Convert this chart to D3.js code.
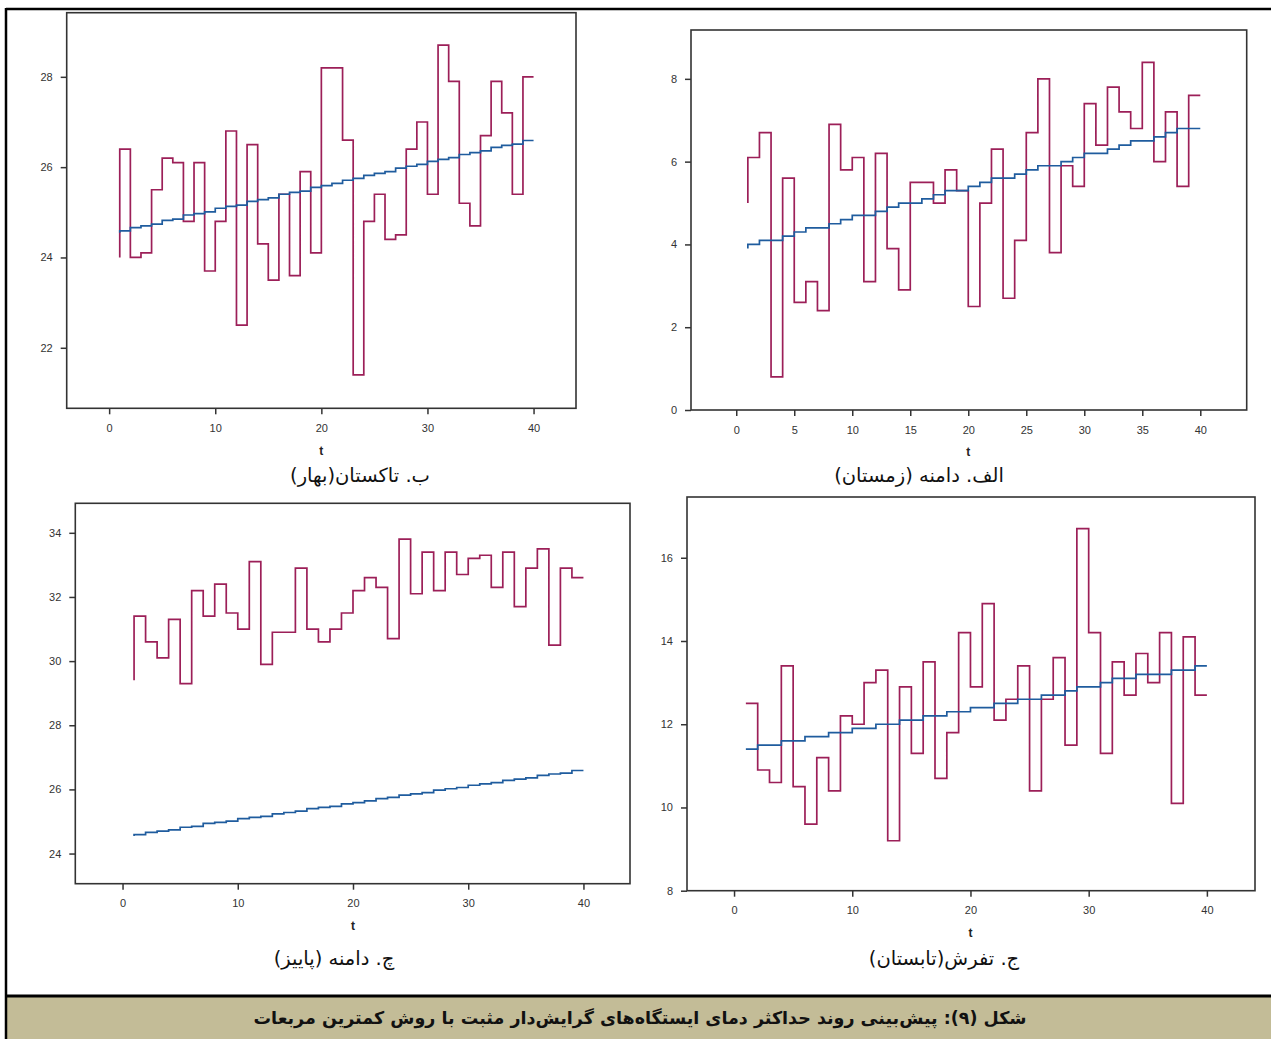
<!DOCTYPE html>
<html>
<head>
  <meta charset="utf-8">
  <script src="https://d3js.org/d3.v7.min.js"></script>
  <style>
    body { margin: 0; background: #fff; }
    .tick text { font: 11px "Liberation Sans", sans-serif; fill: #333; }
    .tick line { stroke: #333; stroke-width: 1.5; }
    .t-label { font: bold 12px "Liberation Sans", sans-serif; fill: #222; text-anchor: middle; }
    .cap { font: 19.5px "DejaVu Sans", sans-serif; fill: #111; text-anchor: middle; }
    .title { font: bold 17.5px "DejaVu Sans", sans-serif; fill: #111; text-anchor: middle; }
  </style>
</head>
<body>
  <svg width="1271" height="1039"></svg>
  <script>
    // time index (t)
    var tValues = [1, 2, 3, 4, 5, 6, 7, 8, 9, 10, 11, 12, 13, 14, 15, 16, 17, 18, 19, 20,
                   21, 22, 23, 24, 25, 26, 27, 28, 29, 30, 31, 32, 33, 34, 35, 36, 37, 38, 39, 40];

    // ب. تاکستان (بهار)
    var springObs = [24.0, 26.4, 24.0, 24.1, 25.5, 26.2, 26.1, 24.8, 26.1, 23.7,
                     24.8, 26.8, 22.5, 26.5, 24.3, 23.5, 25.4, 23.6, 25.9, 24.1,
                     28.2, 28.2, 26.6, 21.4, 24.8, 25.4, 24.4, 24.5, 26.4, 27.0,
                     25.4, 28.7, 27.9, 25.2, 24.7, 26.7, 27.9, 27.2, 25.4, 28.0];
    var springTrend = [24.55, 24.59, 24.66, 24.70, 24.74, 24.82, 24.85, 24.94, 24.97, 25.01,
                       25.09, 25.13, 25.16, 25.24, 25.28, 25.32, 25.40, 25.44, 25.47, 25.55,
                       25.59, 25.64, 25.71, 25.75, 25.82, 25.86, 25.90, 25.98, 26.02, 26.06,
                       26.13, 26.17, 26.21, 26.28, 26.32, 26.36, 26.44, 26.48, 26.51, 26.59];

    // الف. دامنه (زمستان)
    var winterObs = [5.0, 6.1, 6.7, 0.8, 5.6, 2.6, 3.1, 2.4, 6.9, 5.8,
                     6.1, 3.1, 6.2, 3.9, 2.9, 5.5, 5.5, 5.0, 5.8, 5.3,
                     2.5, 5.0, 6.3, 2.7, 4.1, 6.7, 8.0, 3.8, 5.9, 5.4,
                     7.4, 6.4, 7.8, 7.2, 6.8, 8.4, 6.0, 7.2, 5.4, 7.6];
    var winterTrend = [3.9, 4.0, 4.1, 4.1, 4.2, 4.3, 4.4, 4.4, 4.5, 4.6,
                       4.7, 4.7, 4.8, 4.9, 5.0, 5.0, 5.1, 5.2, 5.3, 5.3,
                       5.4, 5.5, 5.6, 5.6, 5.7, 5.8, 5.9, 5.9, 6.0, 6.1,
                       6.2, 6.2, 6.3, 6.4, 6.5, 6.5, 6.6, 6.7, 6.8, 6.8];

    // چ. دامنه (پاییز)
    var autumnObs = [29.4, 31.4, 30.6, 30.1, 31.3, 29.3, 32.2, 31.4, 32.4, 31.5,
                     31.0, 33.1, 29.9, 30.9, 30.9, 32.9, 31.0, 30.6, 31.0, 31.5,
                     32.2, 32.6, 32.3, 30.7, 33.8, 32.1, 33.4, 32.2, 33.4, 32.7,
                     33.2, 33.3, 32.3, 33.4, 31.7, 32.9, 33.5, 30.5, 32.9, 32.6];
    var autumnTrend = [24.55, 24.59, 24.66, 24.70, 24.74, 24.82, 24.85, 24.94, 24.97, 25.01,
                       25.09, 25.13, 25.16, 25.24, 25.28, 25.32, 25.40, 25.44, 25.47, 25.55,
                       25.59, 25.64, 25.71, 25.75, 25.82, 25.86, 25.90, 25.98, 26.02, 26.06,
                       26.13, 26.17, 26.21, 26.28, 26.32, 26.36, 26.44, 26.48, 26.51, 26.59];

    // ج. تفرش (تابستان)
    var summerObs = [12.5, 12.5, 10.9, 10.6, 13.4, 10.5, 9.6, 11.2, 10.4, 12.2,
                     12.0, 13.0, 13.3, 9.2, 12.9, 11.3, 13.5, 10.7, 11.8, 14.2,
                     12.9, 14.9, 12.1, 12.6, 13.4, 10.4, 12.6, 13.6, 11.5, 16.7,
                     14.2, 11.3, 13.5, 12.7, 13.7, 13.0, 14.2, 10.1, 14.1, 12.7];
    var summerTrend = [11.4, 11.4, 11.5, 11.5, 11.6, 11.6, 11.7, 11.7, 11.8, 11.8,
                       11.9, 11.9, 12.0, 12.0, 12.1, 12.1, 12.2, 12.2, 12.3, 12.3,
                       12.4, 12.4, 12.5, 12.5, 12.6, 12.6, 12.7, 12.7, 12.8, 12.9,
                       12.9, 13.0, 13.1, 13.1, 13.2, 13.2, 13.2, 13.3, 13.3, 13.4];

    // tick labels
    var xTicksTen = [0, 10, 20, 30, 40];
    var xTicksFive = [0, 5, 10, 15, 20, 25, 30, 35, 40];
    var springYTicks = [22, 24, 26, 28];
    var winterYTicks = [0, 2, 4, 6, 8];
    var autumnYTicks = [24, 26, 28, 30, 32, 34];
    var summerYTicks = [8, 10, 12, 14, 16];

    var obsColor = "#9c1f58";
    var trendColor = "#1f5c9e";
    var frameColor = "#333";

    var svg = d3.select("svg");

    svg.append("rect").attr("width", 1271).attr("height", 1039).attr("fill", "#fff");

    var panels = [
      {obs: springObs, trend: springTrend, yTicks: springYTicks, xTicks: xTicksTen,
       box: {left: 66.7, right: 576, top: 12.7, bottom: 408.3},
       xDomain: [-4, 44], yDomain: [20.66, 29.42],
       caption: "ب. تاکستان(بهار)", capX: 360, capY: 475},
      {obs: winterObs, trend: winterTrend, yTicks: winterYTicks, xTicks: xTicksFive,
       box: {left: 691, right: 1246.7, top: 30, bottom: 410},
       xDomain: [-3.9, 44], yDomain: [0, 9.18],
       caption: "الف. دامنه (زمستان)", capX: 919, capY: 475},
      {obs: autumnObs, trend: autumnTrend, yTicks: autumnYTicks, xTicks: xTicksTen,
       box: {left: 75.3, right: 630, top: 503.3, bottom: 883.7},
       xDomain: [-4.1, 44.04], yDomain: [23.06, 34.92],
       caption: "چ. دامنه (پاییز)", capX: 334, capY: 958},
      {obs: summerObs, trend: summerTrend, yTicks: summerYTicks, xTicks: xTicksTen,
       box: {left: 687, right: 1255, top: 497, bottom: 890.7},
       xDomain: [-3.98, 44.07], yDomain: [8, 17.46],
       caption: "ج. تفرش(تابستان)", capX: 944, capY: 958}
    ];

    panels.forEach(function(p) {
      var b = p.box;
      var x = d3.scaleLinear().domain(p.xDomain).range([b.left, b.right]);
      var y = d3.scaleLinear().domain(p.yDomain).range([b.bottom, b.top]);

      var g = svg.append("g");

      g.append("g")
        .attr("transform", "translate(0," + b.bottom + ")")
        .call(d3.axisBottom(x).tickValues(p.xTicks).tickSize(6).tickPadding(10))
        .call(a => a.select(".domain").remove());

      g.append("g")
        .attr("transform", "translate(" + b.left + ",0)")
        .call(d3.axisLeft(y).tickValues(p.yTicks).tickSize(6).tickPadding(8))
        .call(a => a.select(".domain").remove());

      var line = d3.line()
        .x((d, i) => x(tValues[i]))
        .y(d => y(d))
        .curve(d3.curveStepBefore);

      g.append("path")
        .datum(p.obs)
        .attr("fill", "none")
        .attr("stroke", obsColor)
        .attr("stroke-width", 1.7)
        .attr("d", line);

      g.append("path")
        .datum(p.trend)
        .attr("fill", "none")
        .attr("stroke", trendColor)
        .attr("stroke-width", 1.7)
        .attr("d", line);

      g.append("rect")
        .attr("x", b.left).attr("y", b.top)
        .attr("width", b.right - b.left).attr("height", b.bottom - b.top)
        .attr("fill", "none")
        .attr("stroke", frameColor)
        .attr("stroke-width", 1.6);

      g.append("text")
        .attr("class", "t-label")
        .attr("x", x(20))
        .attr("y", b.bottom + 42)
        .attr("dy", "0.35em")
        .text("t");

      g.append("text")
        .attr("class", "cap")
        .attr("direction", "rtl")
        .attr("x", p.capX)
        .attr("y", p.capY)
        .attr("dy", "0.35em")
        .text(p.caption);
    });

    // outer frame and caption band
    svg.append("rect")
      .attr("x", 6).attr("y", 997).attr("width", 1265).attr("height", 42)
      .attr("fill", "#c3bc97");
    svg.append("line")
      .attr("x1", 6).attr("x2", 1271).attr("y1", 996).attr("y2", 996)
      .attr("stroke", "#000").attr("stroke-width", 3);
    svg.append("line")
      .attr("x1", 6).attr("x2", 1271).attr("y1", 9).attr("y2", 9)
      .attr("stroke", "#000").attr("stroke-width", 2.5);
    svg.append("line")
      .attr("x1", 6).attr("x2", 6).attr("y1", 8).attr("y2", 1039)
      .attr("stroke", "#000").attr("stroke-width", 2.5);

    svg.append("text")
      .attr("class", "title")
      .attr("direction", "rtl")
      .attr("x", 640)
      .attr("y", 1018)
      .attr("dy", "0.35em")
      .text("شکل (۹): پیش‌بینی روند حداکثر دمای ایستگاه‌های گرایش‌دار مثبت با روش کمترین مربعات");
  </script>
</body>
</html>
